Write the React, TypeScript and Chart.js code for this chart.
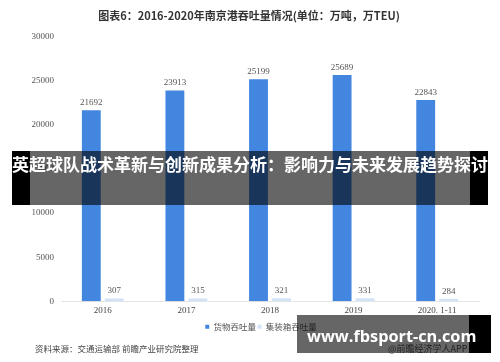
import React, { useEffect, useRef } from "react";
import { Chart, registerables } from "chart.js";

Chart.register(...registerables);

const categories = ["2016", "2017", "2018", "2019", "2020. 1-11"];
const cargoValues = [21692, 23913, 25199, 25689, 22843];
const containerValues = [307, 315, 321, 331, 284];
const seriesNames = ["货物吞吐量", "集装箱吞吐量"];
const titleText = "图表6：2016-2020年南京港吞吐量情况(单位：万吨，万TEU)";
const sourceText = "资料来源：交通运输部 前瞻产业研究院整理";
const creditText = "@前瞻经济学人APP";
const bannerText = "英超球队战术革新与创新成果分析：影响力与未来发展趋势探讨";
const siteText = "www.fbsport-cn.com";

const SERIF = "'Liberation Serif', 'DejaVu Serif', serif";
const CJK = "'Noto Sans CJK SC', 'Noto Sans', sans-serif";

const valueLabelPlugin = {
  id: "valueLabels",
  afterDatasetsDraw(chart: any) {
    const ctx = chart.ctx;
    ctx.save();
    ctx.font = `9px ${SERIF}`;
    ctx.fillStyle = "#555";
    ctx.textAlign = "center";
    ctx.textBaseline = "bottom";
    chart.data.datasets.forEach((ds: any, i: number) => {
      const meta = chart.getDatasetMeta(i);
      meta.data.forEach((el: any, j: number) => {
        ctx.fillText(String(ds.data[j]), el.x, el.y - 3);
      });
    });
    ctx.restore();
  },
};

export default function App() {
  const ref = useRef<HTMLCanvasElement | null>(null);

  useEffect(() => {
    if (!ref.current) return;
    const chart = new Chart(ref.current, {
      type: "bar",
      data: {
        labels: categories,
        datasets: [
          {
            label: seriesNames[0],
            data: cargoValues,
            backgroundColor: "#4286e0",
            categoryPercentage: 0.55,
            barPercentage: 0.82,
          },
          {
            label: seriesNames[1],
            data: containerValues,
            backgroundColor: "#d2e3f8",
            categoryPercentage: 0.55,
            barPercentage: 0.82,
          },
        ],
      },
      options: {
        responsive: false,
        animation: false,
        devicePixelRatio: 1,
        layout: { padding: { left: 0, right: 0, top: 37, bottom: 21 } },
        plugins: {
          title: { display: false },
          tooltip: { enabled: false },
          legend: {
            position: "bottom",
            labels: {
              usePointStyle: true,
              pointStyle: "rect",
              boxWidth: 4,
              boxHeight: 4,
              padding: 1.5,
              color: "#555",
              font: { size: 8.5, family: CJK },
            },
          },
        },
        scales: {
          x: {
            grid: { display: false, drawTicks: false },
            border: { display: true, color: "#e4e4e4" },
            ticks: { color: "#444", font: { size: 9, family: SERIF }, padding: 4.5 },
          },
          y: {
            min: 0,
            max: 30000,
            grid: { display: false, drawTicks: false },
            border: { display: false },
            ticks: {
              stepSize: 5000,
              color: "#555",
              padding: 7,
              font: { size: 9, family: SERIF },
              callback: (v: any) => String(v),
            },
            afterFit: (s: any) => {
              s.width = 61;
            },
          },
          yPad: {
            position: "right",
            display: true,
            grid: { display: false, drawTicks: false },
            border: { display: false },
            ticks: { display: false },
            afterFit: (s: any) => {
              s.width = 43;
            },
          },
        },
      },
      plugins: [valueLabelPlugin],
    });
    return () => chart.destroy();
  }, []);

  return (
    <div
      style={{
        position: "absolute",
        left: 0,
        top: 0,
        width: 500,
        height: 362,
        background: "#fff",
        overflow: "hidden",
      }}
    >
      <canvas ref={ref} width={522} height={362} style={{ display: "block" }} />
      <div
        style={{
          position: "absolute",
          left: 0,
          width: 500,
          top: 8,
          textAlign: "center",
          font: `bold 11px ${CJK}`,
          color: "#333",
          lineHeight: "14px",
        }}
      >
        <span style={{ position: "relative", left: -1 }}>{titleText}</span>
      </div>
      <div
        style={{
          position: "absolute",
          left: 35,
          top: 342,
          font: `8.5px ${CJK}`,
          color: "#444",
          lineHeight: "12px",
          whiteSpace: "nowrap",
        }}
      >
        {sourceText}
      </div>
      <div
        style={{
          position: "absolute",
          left: 388,
          top: 343,
          font: `9px ${CJK}`,
          color: "#555",
          lineHeight: "12px",
          whiteSpace: "nowrap",
        }}
      >
        {creditText}
      </div>
      {/* central banner */}
      <div style={{ position: "absolute", left: 12, top: 151, width: 18, height: 54, background: "#000" }} />
      <div style={{ position: "absolute", left: 30, top: 151, width: 440, height: 54, background: "rgba(0,0,0,0.6)" }} />
      <div style={{ position: "absolute", left: 470, top: 151, width: 18, height: 54, background: "#000" }} />
      <div
        style={{
          position: "absolute",
          left: 0,
          width: 500,
          top: 151,
          height: 54,
          lineHeight: "54px",
          textAlign: "center",
          font: `bold 17px ${CJK}`,
          color: "#fff",
          whiteSpace: "nowrap",
        }}
      >
        {bannerText}
      </div>
      {/* bottom-right banner */}
      <div style={{ position: "absolute", left: 297, top: 315, width: 172, height: 38, background: "rgba(0,0,0,0.6)" }} />
      <div style={{ position: "absolute", left: 469, top: 315, width: 22, height: 38, background: "#000" }} />
      <div
        style={{
          position: "absolute",
          left: 307,
          top: 325,
          lineHeight: "24px",
          font: `bold 16.3px 'Open Sans', 'DejaVu Sans', sans-serif`,
          color: "#fff",
          whiteSpace: "nowrap",
        }}
      >
        {siteText}
      </div>
    </div>
  );
}
